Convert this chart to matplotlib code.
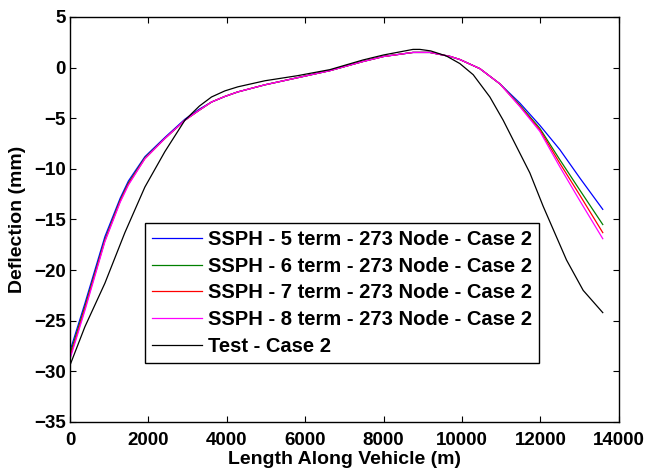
import matplotlib.pyplot as plt

plt.rcParams['font.family'] = ['Liberation Sans', 'DejaVu Sans']
plt.rcParams['font.weight'] = 'bold'

# data
x_ssph = [0, 380, 890, 1280, 1490, 1910, 2420, 2930, 3300, 3610, 3950, 4280,
          4970, 5800, 6630, 7470, 8000, 8750, 9180, 9700, 9945, 10455, 10965,
          11475, 11985, 12495, 13005, 13590]
ssph5 = [-28.0, -23.3, -16.7, -12.9, -11.2, -8.8, -6.9, -5.1, -4.1, -3.4, -2.85,
         -2.4, -1.7, -1.0, -0.3, 0.6, 1.1, 1.5, 1.5, 1.1, 0.8, -0.1, -1.6, -3.5,
         -5.7, -8.1, -10.9, -14.0]
ssph6 = [-28.3, -23.6, -17.0, -13.1, -11.4, -8.9, -7.0, -5.2, -4.2, -3.4, -2.85,
         -2.4, -1.7, -1.0, -0.3, 0.6, 1.1, 1.5, 1.5, 1.1, 0.8, -0.1, -1.6, -3.7,
         -6.0, -9.1, -12.1, -15.5]
ssph7 = [-28.6, -23.8, -17.1, -13.2, -11.5, -9.0, -7.0, -5.2, -4.2, -3.4, -2.85,
         -2.4, -1.7, -1.0, -0.3, 0.6, 1.1, 1.5, 1.5, 1.1, 0.8, -0.1, -1.6, -3.8,
         -6.15, -9.45, -12.6, -16.3]
ssph8 = [-28.8, -24.0, -17.2, -13.3, -11.6, -9.0, -7.0, -5.2, -4.2, -3.4, -2.85,
         -2.4, -1.7, -1.0, -0.3, 0.6, 1.1, 1.5, 1.5, 1.1, 0.8, -0.1, -1.6, -3.85,
         -6.3, -9.8, -13.15, -16.9]

x_test = [0, 380, 890, 1400, 1910, 2420, 2930, 3300, 3610, 3950, 4280, 4970,
          5800, 6630, 7470, 8000, 8750, 8925, 9200, 9600, 9945, 10285, 10710,
          11050, 11390, 11730, 12070, 12665, 13090, 13590]
test = [-29.4, -25.6, -21.3, -16.3, -11.8, -8.3, -5.2, -3.8, -2.9, -2.3, -1.9,
        -1.3, -0.8, -0.2, 0.75, 1.25, 1.8, 1.8, 1.65, 1.15, 0.4, -0.7, -2.9,
        -5.2, -7.8, -10.4, -13.7, -19.0, -22.0, -24.2]

labels = ['SSPH - 5 term - 273 Node - Case 2',
          'SSPH - 6 term - 273 Node - Case 2',
          'SSPH - 7 term - 273 Node - Case 2',
          'SSPH - 8 term - 273 Node - Case 2',
          'Test - Case 2']

fig = plt.figure(figsize=(6.48, 4.72), dpi=100)
ax = fig.add_axes([0.108, 0.106, 0.847, 0.858])

lw = 0.9
ax.plot(x_ssph, ssph5, color='#0000ff', lw=lw, label=labels[0])
ax.plot(x_ssph, ssph6, color='#008000', lw=lw, label=labels[1])
ax.plot(x_ssph, ssph7, color='#ff0000', lw=lw, label=labels[2])
ax.plot(x_ssph, ssph8, color='#ff00ff', lw=lw, label=labels[3])
ax.plot(x_test, test, color='black', lw=lw, label=labels[4])

ax.set_xlim(0, 14000)
ax.set_ylim(-35, 5)
ax.set_xticks(range(0, 14001, 2000))
ax.set_yticks(range(-35, 6, 5))
ax.tick_params(direction='in', top=True, right=True, labelsize=13.5, length=4)
ax.tick_params(axis='x', pad=7)
ax.tick_params(axis='y', pad=3)
for s in ax.spines.values():
    s.set_linewidth(1.0)

ax.set_xlabel('Length Along Vehicle (m)', fontsize=14, fontweight='bold', labelpad=2)
ax.set_ylabel('Deflection (mm)', fontsize=14, fontweight='bold', labelpad=5.7)

leg = ax.legend(loc='lower left', bbox_to_anchor=(0.137, 0.146), borderaxespad=0,
                fontsize=14.5, fancybox=False, framealpha=1, edgecolor='black',
                handlelength=2.45, handletextpad=0.3, labelspacing=0.38,
                borderpad=0.35)
leg.get_frame().set_linewidth(1.0)

plt.savefig('out.png', dpi=100)
